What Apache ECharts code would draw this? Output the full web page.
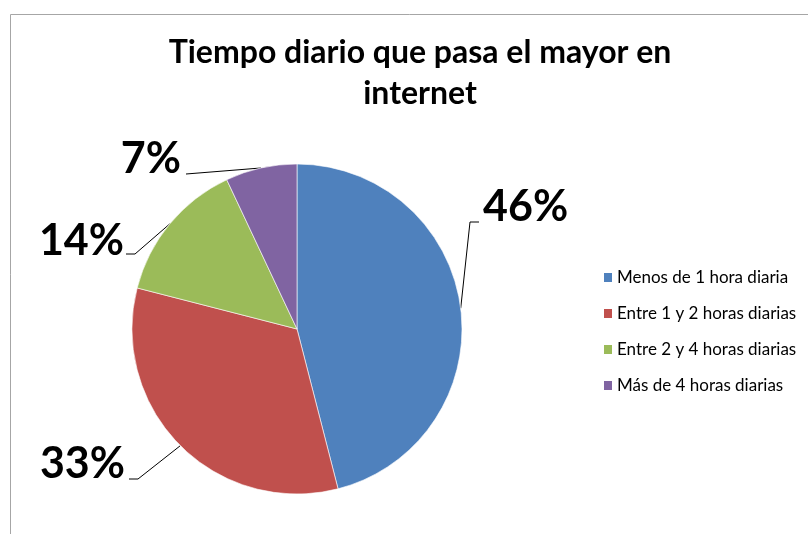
<!DOCTYPE html>
<html>
<head>
<meta charset="utf-8">
<script src="https://cdn.jsdelivr.net/npm/echarts@6/dist/echarts.min.js"></script>
<style>
  html, body { margin: 0; padding: 0; background: #fff; }
  #chart { width: 808px; height: 534px; }
</style>
</head>
<body>
<div id="chart"></div>
<script>
// data
var categories = ['Menos de 1 hora diaria', 'Entre 1 y 2 horas diarias', 'Entre 2 y 4 horas diarias', 'Más de 4 horas diarias']
var percents = [46, 33, 14, 7]
var colors = ['#4F81BD', '#C0504D', '#9BBB59', '#8064A2']

// where each big % label sits, and the bend of its leader line
var labelSpots = [
  { x: 483, y: 207, align: 'left', bend: [[470, 222], [479, 222]] },
  { x: 125, y: 464, align: 'right', bend: [[138, 479], [129, 479]] },
  { x: 124, y: 241, align: 'right', bend: [[135, 254], [126, 254]] },
  { x: 181, y: 159, align: 'right', bend: [[186, 174]] }
]

var chart = echarts.init(document.getElementById('chart'))
chart.setOption({
  animation: false,
  color: colors,
  graphic: [{
    type: 'rect',
    shape: { x: 10.5, y: 14.5, width: 900, height: 700 },
    style: { fill: 'none', stroke: '#a6a6a6', lineWidth: 1 },
    silent: true
  }],
  title: {
    text: 'Tiempo diario que pasa el mayor en\ninternet',
    left: 415,
    textAlign: 'center',
    top: 27,
    textStyle: {
      fontFamily: 'Lato',
      fontWeight: 'bold',
      fontSize: 32,
      lineHeight: 41,
      color: '#000'
    }
  },
  legend: {
    orient: 'vertical',
    left: 597,
    top: 264,
    itemWidth: 10,
    itemHeight: 11,
    itemGap: 19,
    icon: 'rect',
    data: categories,
    textStyle: { fontFamily: 'Lato', fontSize: 17, color: '#000', padding: [0, 0, 0, -1] }
  },
  series: [{
    type: 'pie',
    center: [297, 329],
    radius: 165,
    startAngle: 90,
    clockwise: true,
    itemStyle: { borderColor: '#ffffff', borderWidth: 0.6 },
    label: {
      show: true,
      formatter: '{c}%',
      fontFamily: 'Lato',
      fontWeight: 'bold',
      fontSize: 43,
      color: '#000'
    },
    labelLine: {
      show: true,
      length: 20,
      length2: 10,
      lineStyle: { color: '#000', width: 1 }
    },
    labelLayout: function (params) {
      var s = labelSpots[params.dataIndex]
      var start = params.labelLinePoints ? params.labelLinePoints[0] : null
      var out = { x: s.x, y: s.y, align: s.align, verticalAlign: 'middle' }
      if (start) out.labelLinePoints = [start].concat(s.bend)
      return out
    },
    data: categories.map(function (name, i) {
      return { name: name, value: percents[i] }
    })
  }]
})
</script>
</body>
</html>
